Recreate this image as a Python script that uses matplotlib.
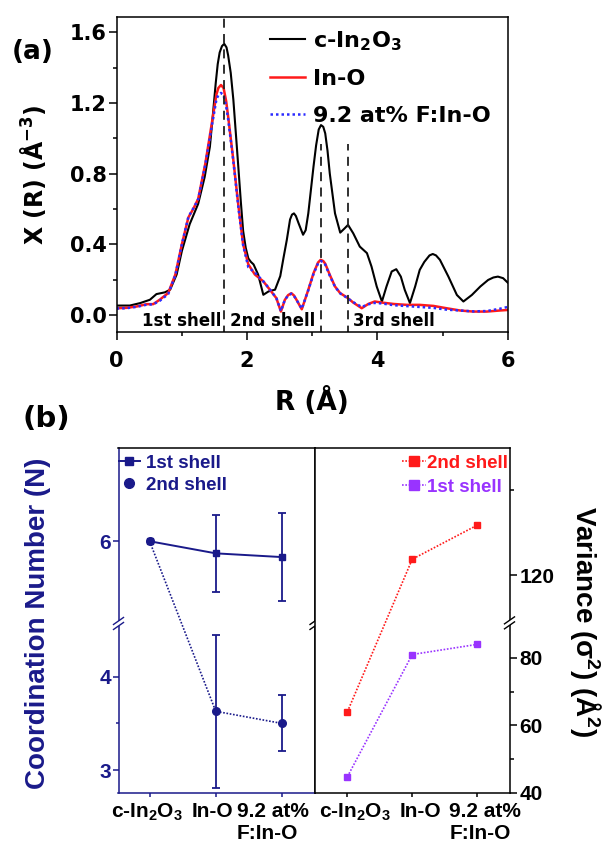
import numpy as np
import matplotlib
matplotlib.use('Agg')
import matplotlib.pyplot as plt
from matplotlib.lines import Line2D
from matplotlib.ticker import FixedLocator, FormatStrFormatter
from matplotlib.transforms import ScaledTranslation

plt.rcParams['font.family'] = ['DejaVu Sans']
plt.rcParams['font.weight'] = 'bold'
plt.rcParams['axes.labelweight'] = 'bold'
plt.rcParams['mathtext.default'] = 'regular'
plt.rcParams['axes.linewidth'] = 1.1

# ---------------- data panel (a) ----------------
r_c = [0.00, 0.20, 0.36, 0.51, 0.61, 0.74, 0.82, 0.92, 1.00, 1.12, 1.25, 1.35, 1.43, 1.475,
       1.52, 1.55, 1.58, 1.615, 1.65, 1.685, 1.71, 1.75, 1.79, 1.83, 1.87, 1.905, 1.94, 1.98,
       2.02, 2.06, 2.10, 2.17, 2.25, 2.33, 2.43, 2.51, 2.56, 2.61, 2.66, 2.69, 2.72, 2.75,
       2.79, 2.86, 2.90, 2.94, 3.02, 3.06, 3.10, 3.135, 3.17, 3.20, 3.235, 3.27, 3.35, 3.43,
       3.50, 3.55, 3.63, 3.73, 3.84, 3.91, 3.99, 4.07, 4.14, 4.22, 4.29, 4.36, 4.42, 4.50,
       4.58, 4.65, 4.72, 4.80, 4.85, 4.90, 4.96, 5.09, 5.22, 5.32, 5.45, 5.58, 5.70, 5.78,
       5.85, 5.93, 6.00]
chi_c = [0.053, 0.053, 0.067, 0.086, 0.118, 0.128, 0.143, 0.229, 0.362, 0.514, 0.629, 0.781,
         0.952, 1.13, 1.314, 1.42, 1.486, 1.522, 1.535, 1.515, 1.47, 1.37, 1.219, 1.02, 0.819,
         0.64, 0.476, 0.38, 0.320, 0.300, 0.286, 0.229, 0.114, 0.133, 0.143, 0.220, 0.324,
         0.424, 0.54, 0.568, 0.575, 0.560, 0.52, 0.454, 0.480, 0.575, 0.84, 0.96, 1.050, 1.075,
         1.065, 1.028, 0.93, 0.80, 0.575, 0.466, 0.491, 0.51, 0.462, 0.387, 0.35, 0.274, 0.161,
         0.076, 0.161, 0.246, 0.259, 0.217, 0.142, 0.067, 0.161, 0.255, 0.300, 0.337, 0.345,
         0.337, 0.312, 0.217, 0.113, 0.076, 0.113, 0.161, 0.198, 0.212, 0.217, 0.208, 0.183]

r_ino = [0.00, 0.15, 0.31, 0.46, 0.56, 0.66, 0.79, 0.90, 1.00, 1.10, 1.18, 1.25, 1.36, 1.46,
         1.53, 1.56, 1.60, 1.64, 1.68, 1.71, 1.79, 1.87, 1.94, 2.02, 2.12, 2.25, 2.35, 2.45,
         2.52, 2.58, 2.63, 2.68, 2.72, 2.76, 2.84, 2.94, 3.02, 3.09, 3.13, 3.17, 3.20, 3.27,
         3.35, 3.43, 3.53, 3.63, 3.76, 3.86, 3.96, 4.07, 4.25, 4.45, 4.65, 4.86, 5.06, 5.27,
         5.47, 5.68, 5.88, 6.00]
chi_ino = [0.038, 0.040, 0.048, 0.061, 0.061, 0.086, 0.124, 0.229, 0.400, 0.552, 0.604, 0.657,
           0.857, 1.086, 1.248, 1.285, 1.302, 1.285, 1.210, 1.124, 0.876, 0.610, 0.400, 0.286,
           0.229, 0.190, 0.143, 0.095, 0.019, 0.085, 0.112, 0.123, 0.110, 0.085, 0.032, 0.142,
           0.236, 0.297, 0.312, 0.305, 0.290, 0.227, 0.161, 0.123, 0.100, 0.070, 0.038, 0.062,
           0.076, 0.070, 0.062, 0.057, 0.057, 0.051, 0.038, 0.025, 0.019, 0.019, 0.025, 0.028]

r_f = [0.00, 0.15, 0.31, 0.46, 0.56, 0.66, 0.79, 0.90, 1.00, 1.10, 1.18, 1.25, 1.36, 1.46,
       1.53, 1.56, 1.60, 1.64, 1.68, 1.71, 1.79, 1.87, 1.94, 2.02, 2.12, 2.25, 2.35, 2.45,
       2.52, 2.58, 2.63, 2.68, 2.72, 2.76, 2.84, 2.94, 3.02, 3.09, 3.13, 3.17, 3.20, 3.27,
       3.35, 3.43, 3.53, 3.63, 3.76, 3.86, 3.96, 4.07, 4.25, 4.45, 4.65, 4.86, 5.06, 5.27,
       5.47, 5.68, 5.88, 6.00]
chi_f = [0.036, 0.038, 0.046, 0.058, 0.060, 0.080, 0.118, 0.225, 0.400, 0.555, 0.606, 0.655,
         0.850, 1.070, 1.220, 1.245, 1.257, 1.245, 1.180, 1.110, 0.870, 0.600, 0.395, 0.270,
         0.240, 0.190, 0.145, 0.095, 0.022, 0.085, 0.110, 0.120, 0.108, 0.085, 0.035, 0.140,
         0.232, 0.292, 0.305, 0.300, 0.285, 0.222, 0.160, 0.122, 0.098, 0.072, 0.045, 0.060,
         0.068, 0.065, 0.055, 0.050, 0.045, 0.040, 0.030, 0.025, 0.020, 0.022, 0.035, 0.045]

shell_R = [1.65, 3.14, 3.55]
shell_top = [1.70, 0.97, 0.97]
shell_names = ['1st shell', '2nd shell', '3rd shell']
shell_label_R = [0.99, 2.40, 4.26]

# ---------------- data panel (b) ----------------
samples = ['c-In$_2$O$_3$', 'In-O', '9.2 at%\nF:In-O']
cn_first = [6.0, 5.87, 5.83]
cn_first_err = [0.0, 0.415, 0.475]
cn_second = [6.0, 3.63, 3.50]
cn_second_err = [0.0, 0.82, 0.30]
var_second = [64.0, 123.8, 131.8]
var_first = [44.7, 81.0, 84.0]

navy = '#1a1a8a'
red = '#ff1a1a'
purple = '#9933ff'
blue = '#2b2bff'

W, H = 610, 846
fig = plt.figure(figsize=(W / 100, H / 100), dpi=100)


def box(l, t, r, b):
    return [l / W, 1 - b / H, (r - l) / W, (b - t) / H]


# ================= panel (a) =================
ax_a = fig.add_axes(box(116.7, 17, 507.7, 331.7))
ax_a.plot(r_c, chi_c, color='black', lw=1.5, label='c-In$_2$O$_3$')
ax_a.plot(r_ino, chi_ino, color=red, lw=1.8, label='In-O')
ax_a.plot(r_f, chi_f, color=blue, lw=1.8, ls=(0, (1, 1.2)), label='9.2 at% F:In-O')
ax_a.vlines(shell_R, -0.2, shell_top, colors='#202020', linestyles=(0, (5, 3.5)), lw=1.3)
for xr, nm in zip(shell_label_R, shell_names):
    ax_a.text(xr, -0.035, nm, ha='center', va='center', fontsize=12)

ax_a.set_xlim(0, 6)
ax_a.set_ylim(-0.095, 1.687)
ax_a.xaxis.set_major_locator(FixedLocator([0, 2, 4, 6]))
ax_a.xaxis.set_minor_locator(FixedLocator([1, 3, 5]))
ax_a.yaxis.set_major_locator(FixedLocator([0.0, 0.4, 0.8, 1.2, 1.6]))
ax_a.yaxis.set_minor_locator(FixedLocator([0.2, 0.6, 1.0, 1.4]))
ax_a.xaxis.set_major_formatter(FormatStrFormatter('%d'))
ax_a.yaxis.set_major_formatter(FormatStrFormatter('%.1f'))
ax_a.tick_params(which='major', direction='out', length=5.8, width=1.1, labelsize=15)
ax_a.tick_params(which='minor', direction='out', length=2.9, width=1.1)
ax_a.tick_params(axis='x', which='major', pad=8)
ax_a.tick_params(axis='y', which='major', pad=1.5)

ax_a.legend(loc='upper left', bbox_to_anchor=(0.392, 0.962), frameon=False, fontsize=16,
            handlelength=1.58, handletextpad=0.36, labelspacing=0.75, borderpad=0,
            borderaxespad=0)

ax_a.set_xlabel('R (Å)', fontsize=19, fontweight='bold', va='center')
ax_a.xaxis.set_label_coords(0.5, (331.7 - 401) / 314.7)
ax_a.set_ylabel('X (R) (Å$^{-3}$)', fontsize=17, fontweight='bold', va='center')
ax_a.yaxis.set_label_coords((33 - 116.7) / 391, 0.5)
fig.text(33 / W, 1 - 52 / H, '(a)', fontsize=19, fontweight='bold', ha='center', va='center')

# ================= panel (b) =================
ax_l = fig.add_axes(box(118.5, 448, 315, 792.5))
ax_r = fig.add_axes(box(315, 448, 509.5, 792.5))


def broken(lo_top, hi_bot, ratio):
    xp = [-1e4, lo_top, hi_bot, 1e4]
    fp = [-1e4, lo_top, lo_top + 1e-4, lo_top + 1e-4 + (1e4 - hi_bot) * ratio]
    return (lambda v: np.interp(v, xp, fp)), (lambda v: np.interp(v, fp, xp))


ax_l.set_yscale('function', functions=broken(4.572, 5.118, 1.0))
ax_r.set_yscale('function', functions=broken(90.4, 108.8, 1.261))

x = np.arange(len(samples))

# left: coordination numbers
ax_l.plot(x, cn_second, ls=(0, (1, 1)), color=navy, lw=1.2, marker='o', ms=5.5, zorder=2)
ax_l.plot(x, cn_first, ls='-', color=navy, lw=1.4, marker='s', ms=5, zorder=3)
ax_l.errorbar(x[1:], cn_first[1:], yerr=cn_first_err[1:], fmt='none', ecolor=navy,
              elinewidth=1.3, capsize=2.6, capthick=1.3, zorder=3)
ax_l.errorbar(x[1:], cn_second[1:], yerr=cn_second_err[1:], fmt='none', ecolor=navy,
              elinewidth=1.3, capsize=2.6, capthick=1.3, zorder=3)
ax_l.set_xlim(-0.47, 2.5)
ax_l.set_ylim(2.759, 7.0)

# right: variance
ax_r.plot(x, var_second, ls=(0, (1, 1)), color=red, lw=1.2, marker='s', ms=5, label='2nd shell')
ax_r.plot(x, var_first, ls=(0, (1, 1)), color=purple, lw=1.2, marker='s', ms=5, label='1st shell')
ax_r.set_xlim(-0.5, 2.5)
ax_r.set_ylim(40, 150)

lib = {'family': 'Liberation Sans', 'weight': 'bold'}

for ax, shifts in ((ax_l, [-3, -3, -9]), (ax_r, [8, 8, 8])):
    ax.set_xticks(x, samples)
    ax.tick_params(axis='x', direction='out', length=3, width=1.1, labelsize=15, pad=3.5)
    for lbl, s in zip(ax.get_xticklabels(), shifts):
        lbl.set_fontfamily('Liberation Sans')
        lbl.set_multialignment('left')
        lbl.set_transform(lbl.get_transform() + ScaledTranslation(s / 100, 0, fig.dpi_scale_trans))

ax_l.yaxis.set_major_locator(FixedLocator([3, 4, 6]))
ax_l.yaxis.set_minor_locator(FixedLocator([3.5]))
ax_l.yaxis.set_major_formatter(FormatStrFormatter('%d'))
ax_l.tick_params(axis='y', which='major', direction='out', length=4.3, width=1.1,
                 labelsize=15, pad=1, color=navy, labelcolor=navy)
ax_l.tick_params(axis='y', which='minor', direction='out', length=2.5, width=1.1, color=navy)
for lbl in ax_l.get_yticklabels():
    lbl.set_fontfamily('Liberation Sans')
ax_l.spines['left'].set_color(navy)
ax_l.spines['bottom'].set_color(navy)
ax_l.tick_params(axis='x', color=navy)

ax_r.yaxis.tick_right()
ax_r.yaxis.set_major_locator(FixedLocator([40, 60, 80, 120]))
ax_r.yaxis.set_minor_locator(FixedLocator([50, 70, 140]))
ax_r.yaxis.set_major_formatter(FormatStrFormatter('%d'))
ax_r.tick_params(axis='y', which='major', direction='out', length=5, width=1.1,
                 labelsize=15, pad=2)
ax_r.tick_params(axis='y', which='minor', direction='out', length=3, width=1.1)
for lbl in ax_r.get_yticklabels():
    lbl.set_fontfamily('Liberation Sans')

# legends
hl = [Line2D([], [], color=navy, lw=1.4, marker='s', ms=6),
      Line2D([], [], color=navy, ls='none', marker='o', ms=7)]
ax_l.legend(hl, ['1st shell', '2nd shell'], loc='upper left', bbox_to_anchor=(0.0, 0.981),
            frameon=False, prop=dict(lib, size=13.5), labelcolor=navy, handlelength=1.15,
            handletextpad=0.32, labelspacing=0.26, borderpad=0, borderaxespad=0)
hr = [Line2D([], [], color=red, lw=1.2, ls=(0, (1, 1)), marker='s', ms=7),
      Line2D([], [], color=purple, lw=1.2, ls=(0, (1, 1)), marker='s', ms=7)]
ax_r.legend(hr, ['2nd shell', '1st shell'], loc='upper right', bbox_to_anchor=(0.992, 0.981),
            frameon=False, prop=dict(lib, size=13.5), labelcolor='linecolor', handlelength=1.28,
            handletextpad=0.05, labelspacing=0.36, borderpad=0, borderaxespad=0)

# axis labels
ax_l.set_ylabel('Coordination Number (N)', fontsize=20, fontweight='bold', color=navy,
                family='Liberation Sans', va='center')
ax_l.yaxis.set_label_coords((38.5 - 118.5) / 196.5, 0.49)
ax_r.text(1.393, 0.495, 'Variance (σ$^2$) (Å$^2$)', rotation=270, ha='center', va='center',
          transform=ax_r.transAxes, fontsize=20, fontweight='bold', family='Liberation Sans')
fig.text(46.7 / W, 1 - 419 / H, '(b)', fontsize=21, fontweight='bold', ha='center', va='center')


# axis-break marks
def add_break(ax, xfrac, ydata, color):
    yfrac = ax.transAxes.inverted().transform(ax.transData.transform((0, ydata)))[1]
    w, h = ax.bbox.width, ax.bbox.height
    dx, dy, gap = 5 / w, 3.5 / h, 2.5 / h
    ax.plot([xfrac, xfrac], [yfrac - gap, yfrac + gap], transform=ax.transAxes, color='white',
            lw=3, clip_on=False, zorder=10, solid_capstyle='butt')
    for s in (-1, 1):
        yc = yfrac + s * gap
        ax.plot([xfrac - dx, xfrac + dx], [yc - dy, yc + dy], transform=ax.transAxes,
                color=color, lw=1.0, clip_on=False, zorder=11)


add_break(ax_l, 0.0, 4.572, navy)
add_break(ax_l, 1.0, 4.572, 'black')
add_break(ax_r, 1.0, 90.4, 'black')

fig.savefig('out.png', dpi=100)
